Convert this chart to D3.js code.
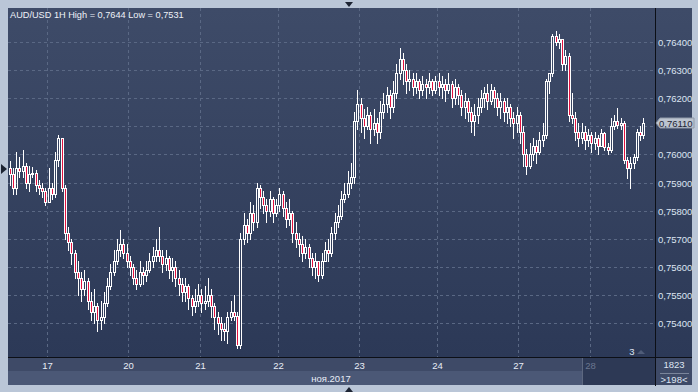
<!DOCTYPE html>
<html>
<head>
<meta charset="utf-8">
<script src="https://cdn.jsdelivr.net/npm/d3@7"></script>
<style>
  body { margin: 0; background: #bac6d7; }
  svg { display: block; font-family: "Liberation Sans", Arial, sans-serif; }
</style>
</head>
<body>
<div id="canvas"></div>
<script>
"use strict";

// Canvas
let svgWidth = 698;
let svgHeight = 392;
let plot = { left: 8, top: 8, right: 655, bottom: 357 };

// AUD/USD hourly candles, prices in 1e-5 units (75930 = 0,75930)
let firstOpen = 75950;
let closes = [
  75930,75880,75950,75940,75960,75900,75930,75935,75890,75880,75870,75830,75880,75860,75980,76060,
  75880,75720,75690,75650,75580,75560,75520,75550,75480,75440,75460,75410,75420,75470,75530,75580,
  75620,75660,75680,75650,75620,75600,75560,75540,75580,75570,75590,75620,75640,75660,75640,75610,
  75630,75590,75600,75560,75540,75510,75530,75490,75460,75480,75500,75470,75480,75500,75460,75420,
  75400,75380,75370,75420,75440,75425,75320,75700,75750,75720,75790,75760,75880,75850,75820,75800,
  75840,75790,75820,75860,75810,75770,75790,75720,75700,75680,75650,75670,75630,75600,75620,75570,
  75620,75660,75650,75720,75760,75780,75840,75860,75900,75920,76120,76180,76130,76100,76140,76090,
  76110,76080,76150,76180,76210,76170,76220,76290,76340,76300,76260,76270,76240,76260,76230,76250,
  76240,76260,76230,76260,76240,76250,76230,76250,76200,76240,76210,76170,76190,76150,76120,76140,
  76170,76200,76220,76190,76230,76200,76170,76190,76150,76170,76130,76110,76140,76080,76000,75960,
  76000,76030,76010,76050,76070,76260,76290,76420,76400,76410,76320,76350,76140,76130,76080,76060,
  76080,76050,76070,76040,76060,76030,76075,76025,76015,76100,76120,76105,76110,75980,75950,75970,
  75990,76080,76070,76110
];
let highs = [
  75975,75950,76010,75990,76015,75970,75960,75955,75945,75910,75900,75880,75950,75900,76010,76070,
  76060,75890,75740,75700,75660,75620,75580,75590,75560,75510,75520,75470,75480,75510,75560,75610,
  75660,75700,75730,75700,75680,75640,75610,75590,75620,75600,75620,75650,75670,75700,75740,75660,
  75660,75640,75630,75620,75590,75560,75560,75540,75500,75520,75540,75520,75530,75560,75520,75470,
  75440,75420,75400,75440,75480,75500,75440,75720,75790,75770,75830,75820,75900,75890,75870,75840,
  75870,75850,75840,75880,75870,75830,75840,75800,75760,75720,75710,75700,75680,75650,75650,75620,
  75650,75690,75700,75740,75790,75820,75870,75900,75940,75970,76150,76230,76200,76160,76170,76150,
  76160,76130,76190,76220,76240,76230,76260,76320,76380,76360,76320,76300,76290,76290,76270,76280,
  76270,76290,76270,76280,76290,76280,76270,76290,76260,76270,76250,76230,76220,76200,76170,76180,
  76200,76230,76240,76250,76250,76240,76220,76220,76200,76200,76180,76150,76170,76150,76100,76020,
  76040,76060,76050,76080,76110,76270,76290,76430,76440,76430,76410,76370,76360,76220,76150,76110,
  76110,76100,76090,76080,76080,76070,76090,76080,76040,76130,76140,76165,76130,76120,75990,75990,
  76000,76090,76100,76130
];
let lows = [
  75890,75860,75860,75920,75920,75880,75870,75920,75870,75860,75850,75820,75830,75840,75850,75960,
  75870,75700,75660,75610,75560,75500,75480,75500,75450,75410,75400,75370,75380,75400,75460,75520,
  75570,75610,75640,75630,75600,75570,75540,75520,75530,75540,75550,75580,75600,75620,75620,75580,
  75590,75560,75550,75530,75500,75480,75480,75450,75430,75440,75460,75440,75450,75460,75420,75380,
  75360,75340,75340,75330,75410,75410,75310,75310,75680,75690,75700,75730,75740,75810,75790,75760,
  75780,75760,75780,75800,75780,75740,75750,75690,75670,75640,75620,75630,75600,75570,75560,75550,
  75560,75620,75620,75640,75700,75740,75770,75830,75850,75880,75900,76090,76080,76060,76090,76040,
  76070,76040,76060,76130,76150,76130,76150,76200,76270,76250,76220,76230,76210,76220,76200,76210,
  76200,76220,76210,76220,76210,76200,76190,76220,76170,76180,76180,76140,76130,76120,76080,76070,
  76110,76150,76170,76160,76180,76170,76140,76130,76120,76110,76100,76060,76080,76040,75960,75930,
  75950,75980,75970,76000,76030,76060,76220,76280,76390,76380,76300,76300,76120,76110,76050,76030,
  76040,76020,76030,76010,76020,76000,76050,76015,76000,76010,76090,76095,76090,75970,75915,75880,
  75950,75980,76050,76060
];

let visibleBars = 198;
let priceTicks = [0.7540, 0.7550, 0.7560, 0.7570, 0.7580, 0.7590, 0.7600, 0.7610, 0.7620, 0.7630, 0.7640];
let dayLabels = ["17", "20", "21", "22", "23", "24", "27", "28"];
let dayStartBar = [12, 37, 59, 83, 108, 132, 157, 179];
let monthLabel = "ноя.2017";
let titleText = "AUD/USD 1H High = 0,7644 Low = 0,7531";
let lastPrice = 0.76110;

// Build candle table
let candles = [];
for (let i = 0; i < closes.length; i++) {
  let o = (i == 0 ? firstOpen : closes[i - 1]) / 1e5;
  let c = closes[i] / 1e5;
  candles.push({
    i: i, open: o, close: c,
    high: Math.max(highs[i] / 1e5, o, c),
    low: Math.min(lows[i] / 1e5, o, c)
  });
}

let fmt = function(v) { return v.toFixed(5).replace(".", ","); };

// Scales
let xScale = d3.scaleBand()
  .domain(d3.range(visibleBars))
  .range([plot.left, plot.left + visibleBars * 3.25]);
let yScale = d3.scaleLinear().domain([0.7540, 0.7640]).range([323, 42]);

let svg = d3.select("#canvas").append("svg")
  .attr("width", svgWidth)
  .attr("height", svgHeight);

let defs = svg.append("defs");
let grad = defs.append("linearGradient").attr("id", "bg").attr("x1", 0).attr("y1", 0).attr("x2", 0).attr("y2", 1);
grad.append("stop").attr("offset", "0%").attr("stop-color", "#3e4b68");
grad.append("stop").attr("offset", "100%").attr("stop-color", "#2c3957");
defs.append("clipPath").attr("id", "plotClip")
  .append("rect").attr("x", plot.left).attr("y", plot.top)
  .attr("width", plot.right - plot.left).attr("height", plot.bottom - plot.top);

// Frame
svg.append("rect").attr("width", svgWidth).attr("height", svgHeight).attr("fill", "#bac6d7");

// Plot + price panel backgrounds
svg.append("rect")
  .attr("x", plot.left).attr("y", plot.top)
  .attr("width", 692 - plot.left).attr("height", plot.bottom - plot.top)
  .attr("fill", "url(#bg)");

// Bottom rows (dates, month)
svg.append("rect").attr("x", plot.left).attr("y", 358).attr("width", plot.right - plot.left).attr("height", 13).attr("fill", "#3e4a67");
svg.append("rect").attr("x", plot.left).attr("y", 371).attr("width", plot.right - plot.left).attr("height", 14).attr("fill", "#4b5876");
svg.append("rect").attr("x", 583).attr("y", 358).attr("width", plot.right - 583).attr("height", 27).attr("fill", "#2d3955");
svg.append("line").attr("x1", 582.5).attr("x2", 582.5).attr("y1", 358).attr("y2", 385).attr("stroke", "#5d6880");
svg.append("rect").attr("x", 656).attr("y", 358).attr("width", 36).attr("height", 27).attr("fill", "#3e4a67");

// Grid
let grid = svg.append("g").attr("clip-path", "url(#plotClip)");
grid.selectAll("line.h")
  .data(priceTicks)
  .enter().append("line")
  .attr("class", "h")
  .attr("x1", plot.left).attr("x2", plot.right)
  .attr("y1", function(d) { return Math.round(yScale(d)) + 0.5; })
  .attr("y2", function(d) { return Math.round(yScale(d)) + 0.5; })
  .attr("stroke", "#5a6884")
  .attr("stroke-dasharray", "3,3");
grid.selectAll("line.v")
  .data(dayStartBar)
  .enter().append("line")
  .attr("class", "v")
  .attr("x1", function(d) { return Math.round(xScale(d)) + 0.5; })
  .attr("x2", function(d) { return Math.round(xScale(d)) + 0.5; })
  .attr("y1", plot.top).attr("y2", plot.bottom)
  .attr("stroke", "#5a6884")
  .attr("stroke-dasharray", "3,3");

// Candles
let bw = xScale.bandwidth();
let cx = function(d) { return Math.round(xScale(d.i) + bw / 2); };
let candleG = grid.selectAll("g.candle")
  .data(candles)
  .enter().append("g")
  .attr("class", "candle");

candleG.append("line") // upper wick
  .attr("x1", function(d) { return cx(d) + 0.5; })
  .attr("x2", function(d) { return cx(d) + 0.5; })
  .attr("y1", function(d) { return Math.round(yScale(d.high)); })
  .attr("y2", function(d) { return Math.round(yScale(Math.max(d.open, d.close))); })
  .attr("stroke", "#ffffff");
candleG.append("line") // lower wick
  .attr("x1", function(d) { return cx(d) + 0.5; })
  .attr("x2", function(d) { return cx(d) + 0.5; })
  .attr("y1", function(d) { return Math.round(yScale(Math.min(d.open, d.close))); })
  .attr("y2", function(d) { return Math.round(yScale(d.low)) + 1; })
  .attr("stroke", "#ffffff");
candleG.append("rect") // body
  .attr("x", function(d) { return cx(d) - 0.5; })
  .attr("y", function(d) { return Math.round(yScale(Math.max(d.open, d.close))) + 0.5; })
  .attr("width", 2)
  .attr("height", function(d) {
    return Math.max(1, Math.round(yScale(Math.min(d.open, d.close))) - Math.round(yScale(Math.max(d.open, d.close))));
  })
  .attr("fill", function(d) { return d.close < d.open ? "#e3123f" : "none"; })
  .attr("stroke", "#ffffff");

// Separator lines
svg.append("line").attr("x1", plot.right + 0.5).attr("x2", plot.right + 0.5).attr("y1", plot.top).attr("y2", 386).attr("stroke", "#0c0f16");
svg.append("line").attr("x1", plot.left).attr("x2", 692).attr("y1", plot.bottom + 0.5).attr("y2", plot.bottom + 0.5).attr("stroke", "#0c0f16");

// Price axis labels (the one under the current price marker is hidden, as in the terminal)
svg.selectAll("text.price")
  .data(priceTicks.filter(function(d) { return Math.abs(d - lastPrice) > 0.0002; }))
  .enter().append("text")
  .attr("class", "price")
  .attr("x", 658)
  .attr("y", function(d) { return Math.round(yScale(d)) + 4; })
  .attr("fill", "#dde5f2")
  .style("font-size", "9.5px")
  .text(fmt);

// Current price marker
let lpY = Math.round(yScale(lastPrice));
svg.append("path")
  .attr("d", "M656," + lpY + " L660," + (lpY - 5) + " L694," + (lpY - 5) + " L694," + (lpY + 5) + " L660," + (lpY + 5) + " Z")
  .attr("fill", "#bcc4d0")
  .attr("stroke", "#8f99a8");
svg.append("text")
  .attr("x", 659).attr("y", lpY + 4)
  .attr("fill", "#1e2433")
  .style("font-size", "9.5px")
  .text(fmt(lastPrice));

// Title
svg.append("text")
  .attr("x", 10).attr("y", 18)
  .attr("fill", "#eef2f8")
  .style("font-size", "9.2px")
  .text(titleText);

// Date labels
svg.selectAll("text.day")
  .data(dayLabels)
  .enter().append("text")
  .attr("class", "day")
  .attr("x", function(d, i) { return Math.round(xScale(dayStartBar[i])) + 0.5; })
  .attr("y", 369)
  .attr("text-anchor", "middle")
  .attr("fill", function(d, i) { return i == dayLabels.length - 1 ? "#6b7790" : "#e8edf6"; })
  .style("font-size", "9.5px")
  .text(function(d) { return d; });
svg.append("text")
  .attr("x", 331).attr("y", 382)
  .attr("text-anchor", "middle")
  .attr("fill", "#e8edf6")
  .style("font-size", "9.5px")
  .text(monthLabel);

// Bar counter panel
svg.append("text").attr("x", 674).attr("y", 368).attr("text-anchor", "middle")
  .attr("fill", "#dde5f2").style("font-size", "9.5px").text("1823");
svg.append("line").attr("x1", 660).attr("x2", 689).attr("y1", 373.5).attr("y2", 373.5).attr("stroke", "#7a859b");
svg.append("text").attr("x", 674).attr("y", 383).attr("text-anchor", "middle")
  .attr("fill", "#dde5f2").style("font-size", "9.5px").text(">198<");

// Scroll marker "3"
svg.append("text").attr("x", 632).attr("y", 355).attr("text-anchor", "middle")
  .attr("fill", "#dde5f2").style("font-size", "9.5px").text("3");
svg.append("path").attr("d", "M637,354 L641,350 L645,354 Z").attr("fill", "#4f5c78");

// Navigation arrows
svg.append("path").attr("d", "M345,2 L353,2 L349,7 Z").attr("fill", "#1c2332");
svg.append("path").attr("d", "M345,392 L353,392 L349,387 Z").attr("fill", "#1c2332");
svg.append("path").attr("d", "M1,164 L7,169 L1,174 Z").attr("fill", "#1c2332");
</script>
</body>
</html>
